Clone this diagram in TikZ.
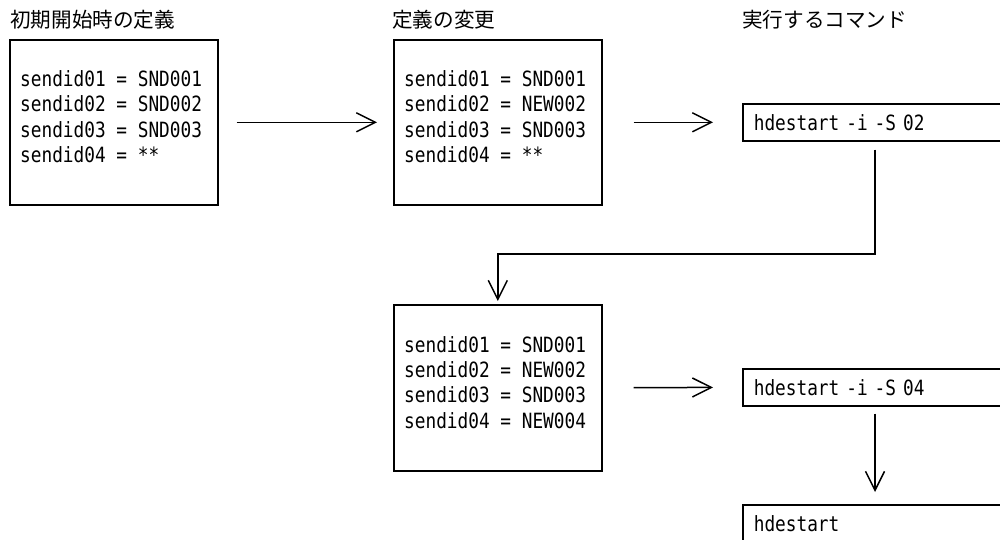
\documentclass[tikz,border=0pt]{standalone}
\usepackage{fontspec}
\usetikzlibrary{arrows.meta,calc}
\newfontfamily\jpfont{Noto Sans CJK JP}
\newfontfamily\codefont[FakeStretch=0.846]{DejaVu Sans Mono}
\begin{document}
\begin{tikzpicture}[x=1pt,y=-1pt,
  box/.style={draw, line width=1.6pt, inner sep=0pt, anchor=north west, minimum width=208pt},
  code/.style={font=\codefont\fontsize{21}{25.3}\selectfont, align=left, inner sep=0pt, anchor=west},
  title/.style={font=\jpfont\fontsize{20.6}{24}\selectfont, inner sep=0pt, anchor=west},
  cmd/.style={draw, line width=1.6pt, minimum height=37pt, text width=278pt, inner xsep=11pt, inner ysep=0pt, align=left, anchor=north west, font=\codefont\fontsize{21}{25}\selectfont},
  arr/.style={line width=1.5pt, -{Straight Barb[length=19pt,width=19pt]}}
]
\clip (0,0) rectangle (1000,540);
\fill[white] (0,0) rectangle (1000,540);

% titles
\node[title] (h1) at (10,20) {初期開始時の定義};
\node[title] (h2) at (392,20) {定義の変更};
\node[title] (h3) at (742,20) {実行するコマンド};

% definition boxes
\node[box, minimum height=165pt] (b1) at (9,39) {};
\node[code] (t1) at ($(b1.west)+(11,-5.5)$) {sendid01 = SND001\\sendid02 = SND002\\sendid03 = SND003\\sendid04 = **};

\node[box, minimum height=165pt] (b2) at (393,39) {};
\node[code] (t2) at ($(b2.west)+(11,-5.5)$) {sendid01 = SND001\\sendid02 = NEW002\\sendid03 = SND003\\sendid04 = **};

\node[box, minimum height=166pt] (b4) at (393,304) {};
\node[code] (t4) at ($(b4.west)+(11,-5.5)$) {sendid01 = SND001\\sendid02 = NEW002\\sendid03 = SND003\\sendid04 = NEW004};

% command boxes
\node[cmd] (b3) at (742,103) {hdestart -i -S 02};
\node[cmd] (b5) at (742,368) {hdestart -i -S 04};
\node[cmd] (b6) at (742,504) {hdestart};

% connectors
\coordinate (k) at (875,254);
\draw[arr, shorten <=18pt, shorten >=16pt] (b1.east) -- (b2.west);
\draw[arr, shorten <=31pt, shorten >=29pt] (b2.east) -- (b3.west);
\draw[arr, shorten <=8pt, shorten >=3pt] (k |- b3.south) -- (k) -| (b4.north);
\draw[arr, shorten <=31pt, shorten >=29pt] (b4.east) -- (b5.west);
\draw[arr, shorten <=7pt, shorten >=12pt] (k |- b5.south) -- (k |- b6.north);
\end{tikzpicture}
\end{document}
